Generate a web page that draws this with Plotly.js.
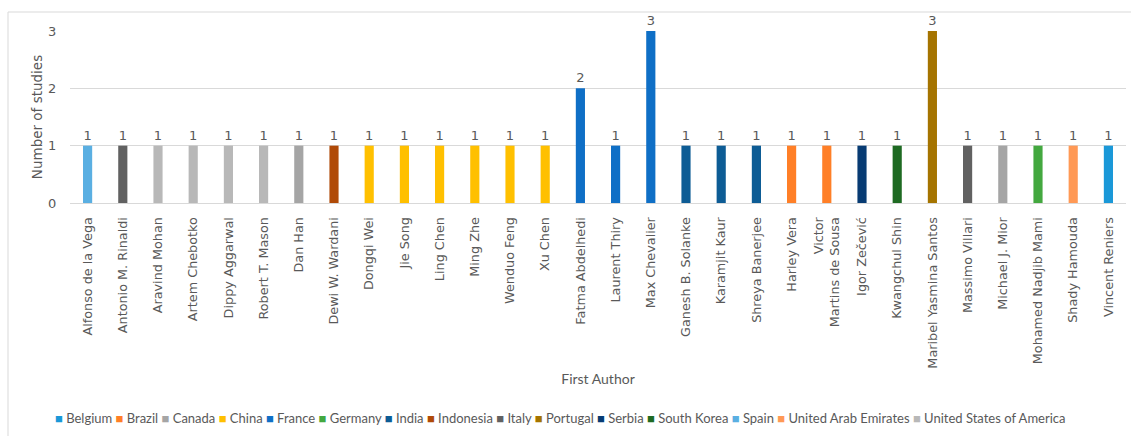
<!DOCTYPE html>
<html>
<head>
<meta charset="utf-8">
<script src="https://cdn.plot.ly/plotly-3.0.1.min.js"></script>
<style>html,body{margin:0;padding:0;background:#fff;}#chart{width:1131px;height:436px;}</style>
</head>
<body>
<div id="chart"></div>
<script>
const authors = ["Alfonso de la Vega","Antonio M. Rinaldi","Aravind Mohan","Artem Chebotko","Dippy Aggarwal","Robert T. Mason","Dan Han","Dewi W. Wardani","Dongqi Wei","Jie Song","Ling Chen","Ming Zhe","Wenduo Feng","Xu Chen","Fatma Abdelhedi","Laurent Thiry","Max Chevalier","Ganesh B. Solanke","Karamjit Kaur","Shreya Banerjee","Harley Vera","Victor<br>Martins de Sousa","Igor Zečević","Kwangchul Shin","Maribel Yasmina Santos","Massimo Villari","Michael J. Mior","Mohamed Nadjib Mami","Shady Hamouda","Vincent Reniers"];
const studies = [1,1,1,1,1,1,1,1,1,1,1,1,1,1,2,1,3,1,1,1,1,1,1,1,3,1,1,1,1,1];
const authorCountry = ["Spain","Italy","United States of America","United States of America","United States of America","United States of America","Canada","Indonesia","China","China","China","China","China","China","France","France","France","India","India","India","Brazil","Brazil","Serbia","South Korea","Portugal","Italy","Canada","Germany","United Arab Emirates","Belgium"];
const countries = ["Belgium","Brazil","Canada","China","France","Germany","India","Indonesia","Italy","Portugal","Serbia","South Korea","Spain","United Arab Emirates","United States of America"];
const countryColors = ["#1A98D8","#FF7F27","#A5A5A5","#FFC000","#0F6FC6","#43A83F","#0D5C95","#B04A07","#616161","#A57400","#073B73","#1E6A22","#5AAFE2","#FF9955","#B8B8B8"];

const traces = countries.map((c, ci) => {
  const xs = [], ys = [];
  authors.forEach((a, i) => { if (authorCountry[i] === c) { xs.push(a); ys.push(studies[i]); } });
  return {
    type: 'bar', name: c, x: xs, y: ys,
    marker: {color: countryColors[ci]},
    text: ys.map(String), textposition: 'outside', cliponaxis: false,
    textfont: {family: 'DejaVu Sans, sans-serif', size: 13, color: '#595959'},
    hoverinfo: 'x+y+name', showlegend: false
  };
});

// legend line built from the country list
const legendText = countries.map((c, ci) =>
  '<span style="color:' + countryColors[ci] + '">■</span> ' + c).join(' ');

const layout = {
  width: 1131, height: 436,
  margin: {l: 70, r: 5, t: 31, b: 233},
  paper_bgcolor: '#fff', plot_bgcolor: '#fff',
  font: {family: 'Lato, sans-serif', color: '#595959', size: 13},
  barmode: 'overlay', bargap: 0.74,
  showlegend: false,
  xaxis: {
    type: 'category', categoryorder: 'array', categoryarray: authors,
    tickangle: -90, showgrid: false, showline: true, linecolor: '#D9D9D9',
    ticks: 'outside', ticklen: 8, tickcolor: 'rgba(0,0,0,0)',
    tickfont: {family: 'DejaVu Sans, sans-serif', size: 12.8, color: '#595959'},
    title: {text: 'First Author', font: {family: 'Lato, sans-serif', size: 14, color: '#595959'}, standoff: 6},
    automargin: false
  },
  yaxis: {
    range: [0, 3], dtick: 1, showgrid: true, gridcolor: '#D9D9D9', gridwidth: 1,
    zeroline: true, zerolinecolor: '#D9D9D9', showline: false,
    ticks: 'outside', ticklen: 10, tickcolor: 'rgba(0,0,0,0)',
    tickfont: {family: 'DejaVu Sans, sans-serif', size: 13, color: '#595959'},
    title: {text: 'Number of studies', font: {family: 'DejaVu Sans, sans-serif', size: 13.5, color: '#595959'}, standoff: 2},
    automargin: false
  },
  annotations: [{
    xref: 'paper', yref: 'paper', x: (560-70)/1056, y: (203-418)/172,
    xanchor: 'center', yanchor: 'middle', showarrow: false,
    text: legendText, font: {family: 'Lato, sans-serif', size: 13, color: '#595959'}
  }],
  shapes: [{type: 'rect', xref: 'paper', yref: 'paper',
    x0: (8-70)/1056, x1: (1140-70)/1056, y0: (203-445)/172, y1: (203-12)/172,
    line: {color: '#D9D9D9', width: 1}, fillcolor: 'rgba(0,0,0,0)', layer: 'below'}]
};

Plotly.newPlot('chart', traces, layout, {displayModeBar: false});
</script>
</body>
</html>
